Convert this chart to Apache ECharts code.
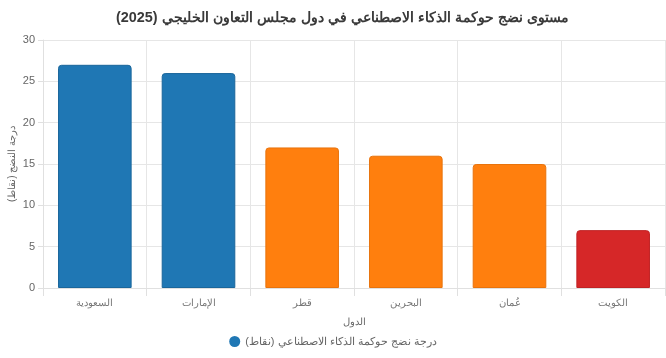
<!DOCTYPE html>
<html><head><meta charset="utf-8">
<script src="https://cdn.jsdelivr.net/npm/echarts@6/dist/echarts.min.js"></script>
<style>html,body{margin:0;padding:0;background:#fff}#c{width:666px;height:358px}</style>
</head><body><div id="c"></div>
<script>
const categories = ['السعودية','الإمارات','قطر','البحرين','عُمان','الكويت'];
const values = [27, 26, 17, 16, 15, 7];
const barColors = ['#1f77b4','#1f77b4','#ff7f0e','#ff7f0e','#ff7f0e','#d62728'];
const borderColors = ['#1a669b','#1a669b','#e8730c','#e8730c','#e8730c','#c02224'];
const yTicks = {min: 0, max: 30, interval: 5};
const titleText = 'مستوى نضج حوكمة الذكاء الاصطناعي في دول مجلس التعاون الخليجي (2025)';
const seriesName = 'درجة نضج حوكمة الذكاء الاصطناعي (نقاط)';
const xName = 'الدول';
const yName = 'درجة النضج (نقاط)';

const chart = echarts.init(document.getElementById('c'), null, {renderer: 'canvas'});
chart.setOption({
  animation: false,
  textStyle: {fontFamily: 'Liberation Sans, Arial, sans-serif'},
  title: {text: titleText, left: 111, top: 6,
    textStyle: {fontSize: 14.4, fontWeight: 'bold', color: '#3a3a3a', fontFamily: 'Liberation Sans, Arial, sans-serif'}},
  legend: {bottom: 6, left: 'center', icon: 'circle', itemWidth: 11, itemHeight: 11, itemGap: 8,
    textStyle: {fontSize: 11, color: '#666'}, data: [{name: seriesName, itemStyle: {color: '#1f77b4'}}]},
  grid: {left: 43, right: 1, top: 40, bottom: 70, containLabel: false, outerBoundsMode: 'none'},
  xAxis: {type: 'category', data: categories, name: xName, nameLocation: 'middle', nameGap: 29,
    nameTextStyle: {fontSize: 10, color: '#666'},
    axisLine: {show: true, lineStyle: {color: '#e0e0e0'}},
    axisTick: {show: true, length: 8, lineStyle: {color: '#e0e0e0'}},
    axisLabel: {fontSize: 10, color: '#777', margin: 10},
    splitLine: {show: true, lineStyle: {color: '#e6e6e6'}}},
  yAxis: {type: 'value', min: yTicks.min, max: yTicks.max, interval: yTicks.interval,
    name: yName, nameLocation: 'middle', nameGap: 26, nameMoveOverlap: false,
    nameTextStyle: {fontSize: 10, color: '#666'},
    axisLine: {show: true, lineStyle: {color: '#e0e0e0'}},
    axisTick: {show: true, length: 5, lineStyle: {color: '#e0e0e0'}},
    axisLabel: {fontSize: 11, color: '#666', margin: 8},
    splitLine: {show: true, lineStyle: {color: '#e6e6e6'}}},
  series: [{name: seriesName, type: 'bar', barWidth: '71%',
    data: values.map((v, i) => ({value: v, itemStyle: {color: barColors[i], borderColor: borderColors[i], borderWidth: 1, borderRadius: [3,3,0,0]}}))}]
});
</script></body></html>
